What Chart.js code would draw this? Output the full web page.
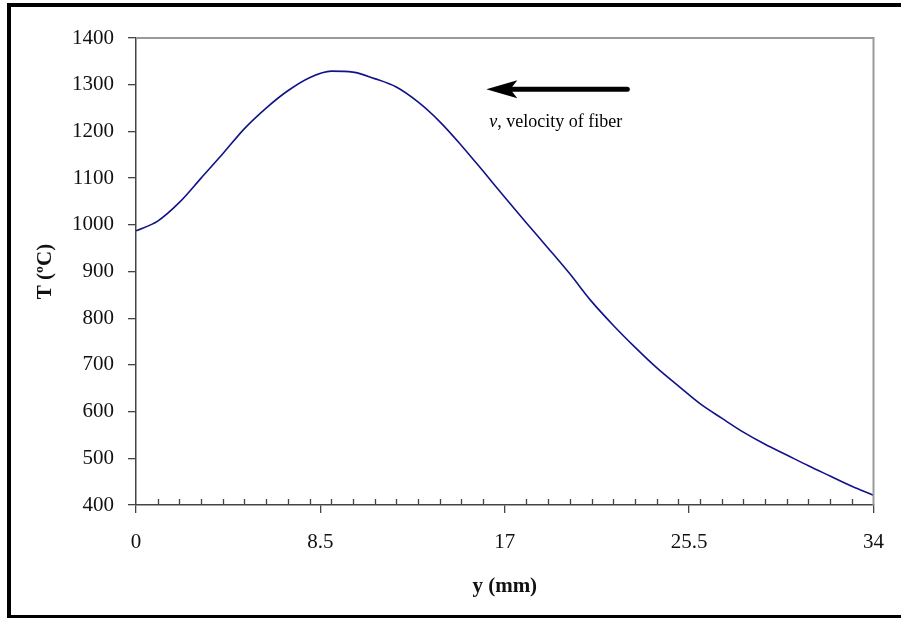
<!DOCTYPE html>
<html>
<head>
<meta charset="utf-8">
<script src="https://cdn.jsdelivr.net/npm/chart.js@4.4.1/dist/chart.umd.min.js"></script>
<style>
    html, body { margin: 0; padding: 0; background: #fff; overflow: hidden; }
    #frame { position: absolute; left: 7px; top: 3px; width: 1000px; height: 608px; border: 4px solid #000; }
    #wrap { position: absolute; left: 0; top: 0; width: 901px; height: 618px; }
</style>
</head>
<body>
<div id="frame"></div>
<div id="wrap"><canvas id="tempChart" width="901" height="618"></canvas></div>
<script>
// position along the fiber (mm)
const positions = [0, 1, 2, 3, 4, 5, 6, 7, 8, 9, 10, 11, 12, 13, 14, 15, 16,
    17, 18, 19, 20, 21, 22, 23, 24, 25, 26, 27, 28, 29, 30, 31, 32, 33, 34];
// temperature (deg C)
const temps = [987, 1008, 1048, 1100, 1152, 1206, 1250, 1287, 1315, 1329, 1327,
    1313, 1295, 1263, 1221, 1170, 1115, 1059, 1004, 950, 895, 836, 785, 738,
    694, 655, 617, 586, 556, 530, 507, 484, 462, 440, 421];
const xLabels = [0, 8.5, 17, 25.5, 34];
const yLabels = [400, 500, 600, 700, 800, 900, 1000, 1100, 1200, 1300, 1400];

const serif = "'Liberation Serif', 'Times New Roman', serif";

document.addEventListener("DOMContentLoaded", function () {
    const ctx = document.getElementById("tempChart").getContext("2d");

    // minor x ticks (inside), plot border, velocity arrow
    const extras = {
        id: "extras",
        afterDraw(chart) {
            const c = chart.ctx;
            const xs = chart.scales.x, ys = chart.scales.y;
            const area = chart.chartArea;
            c.save();
            // top and right border
            c.strokeStyle = "#9a9a9a";
            c.lineWidth = 2;
            c.beginPath();
            c.moveTo(area.left, area.top);
            c.lineTo(area.right, area.top);
            c.lineTo(area.right, area.bottom);
            c.stroke();
            // minor ticks every 1 mm
            c.strokeStyle = "#444";
            c.lineWidth = 1.3;
            c.beginPath();
            positions.forEach(function (p) {
                if (xLabels.indexOf(p) >= 0) return;
                const px = Math.round(xs.getPixelForValue(p)) + 0.5;
                c.moveTo(px, area.bottom);
                c.lineTo(px, area.bottom - 6);
            });
            c.stroke();
            // arrow
            const tipX = xs.getPixelForValue(16.15);
            const tailX = xs.getPixelForValue(22.65);
            const ay = ys.getPixelForValue(1290);
            c.strokeStyle = "#000";
            c.fillStyle = "#000";
            c.lineWidth = 5;
            c.lineCap = "round";
            c.beginPath();
            c.moveTo(tailX, ay);
            c.lineTo(tipX + 20, ay);
            c.stroke();
            c.beginPath();
            c.moveTo(tipX, ay);
            c.lineTo(tipX + 31, ay - 9);
            c.lineTo(tipX + 24, ay);
            c.lineTo(tipX + 31, ay + 9);
            c.closePath();
            c.fill();
            // label
            const ty = ay + 33;
            c.textBaseline = "middle";
            c.textAlign = "left";
            c.font = "italic 18px " + serif;
            c.fillText("v", tipX + 3, ty);
            const w = c.measureText("v").width;
            c.font = "18px " + serif;
            c.fillText(", velocity of fiber", tipX + 3 + w, ty);
            c.restore();
        }
    };

    new Chart(ctx, {
        type: "line",
        data: {
            datasets: [{
                data: positions.map(function (p, i) { return { x: p, y: temps[i] }; }),
                borderColor: "#12128a",
                borderWidth: 1.6,
                pointRadius: 0,
                cubicInterpolationMode: "monotone",
                fill: false
            }]
        },
        options: {
            responsive: false,
            animation: false,
            layout: { padding: { left: 0, right: 27, top: 38, bottom: 0 } },
            plugins: { legend: { display: false }, tooltip: { enabled: false } },
            scales: {
                x: {
                    type: "linear",
                    min: 0,
                    max: 34,
                    afterBuildTicks: function (s) { s.ticks = xLabels.map(function (v) { return { value: v }; }); },
                    afterFit: function (s) { s.height = 113; },
                    grid: { drawOnChartArea: false, tickLength: 8, color: "#444", lineWidth: 1.3 },
                    border: { color: "#444", width: 1.5 },
                    ticks: {
                        color: "#111",
                        padding: 17,
                        maxRotation: 0,
                        font: { family: serif, size: 21 },
                        callback: function (v) { return String(v); }
                    },
                    title: {
                        display: true,
                        text: "y (mm)",
                        color: "#111",
                        font: { family: serif, size: 21, weight: "bold" },
                        padding: { top: 0, bottom: 19 }
                    }
                },
                y: {
                    min: 400,
                    max: 1400,
                    afterBuildTicks: function (s) { s.ticks = yLabels.map(function (v) { return { value: v }; }); },
                    afterFit: function (s) { s.width = 136; },
                    grid: { drawOnChartArea: false, tickLength: 8, color: "#444", lineWidth: 1.3 },
                    border: { color: "#444", width: 1.5 },
                    ticks: {
                        color: "#111",
                        padding: 14,
                        font: { family: serif, size: 21 },
                        callback: function (v) { return String(v); }
                    },
                    title: {
                        display: true,
                        text: "T (ºC)",
                        color: "#111",
                        font: { family: serif, size: 21, weight: "bold" },
                        padding: { top: 33, bottom: 0 }
                    }
                }
            }
        },
        plugins: [extras]
    });
});
</script>
</body>
</html>
